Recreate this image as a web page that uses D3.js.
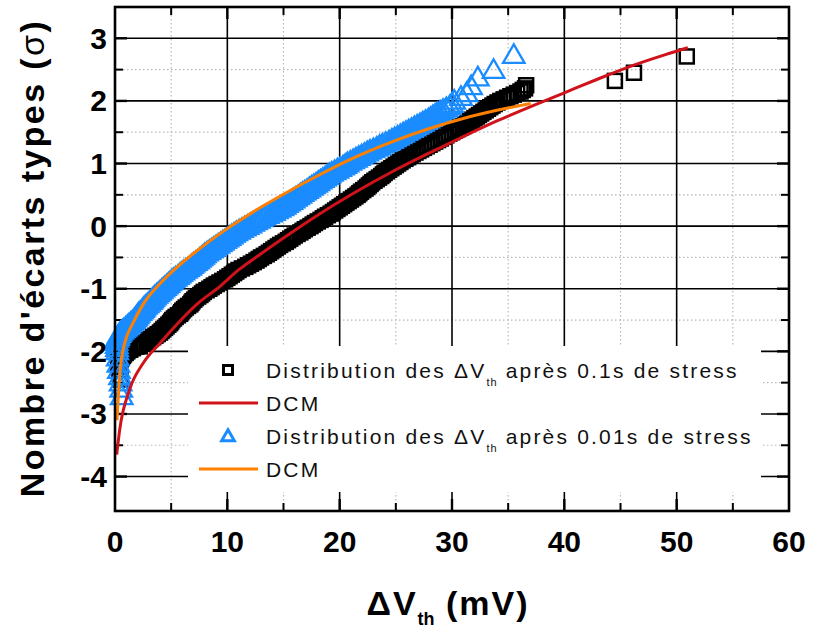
<!DOCTYPE html>
<html><head><meta charset="utf-8">
<script src="https://cdn.jsdelivr.net/npm/d3@7"></script>
<style>
html,body{margin:0;padding:0;background:#fff;}
text{font-family:"Liberation Sans",Arial,sans-serif;}
</style></head>
<body>
<svg id="chart" width="813" height="629"></svg>
<script>
// ---- data ----
const xTicks = [0, 10, 20, 30, 40, 50, 60];
const yTicks = [-4, -3, -2, -1, 0, 1, 2, 3];
const xMinor = [5, 15, 25, 35, 45, 55];
const yMinor = [-3.5, -2.5, -1.5, -0.5, 0.5, 1.5, 2.5];

// Distribution des ΔVth après 0.1s de stress (squares) : [ΔVth (mV), σ]
const stress01 = [
[0.3,-2.25],[0.32,-2.225],[0.35,-2.2],[0.4,-2.175],[0.45,-2.15],[0.52,-2.125],[0.6,-2.1],[0.7,-2.075],[0.8,-2.05],[0.95,-2.025],
[1.1,-2.0],[1.35,-1.975],[1.6,-1.95],[1.9,-1.925],[2.2,-1.9],[2.5,-1.875],[2.8,-1.85],[3.0,-1.825],[3.2,-1.8],[3.4,-1.775],
[3.6,-1.75],[3.8,-1.725],[4.0,-1.7],[4.15,-1.675],[4.3,-1.65],[4.45,-1.625],[4.6,-1.6],[4.75,-1.575],[4.9,-1.55],[5.0,-1.525],
[5.1,-1.5],[5.25,-1.475],[5.4,-1.45],[5.6,-1.425],[5.8,-1.4],[5.9,-1.375],[6.0,-1.35],[6.15,-1.325],[6.3,-1.3],[6.5,-1.275],
[6.7,-1.25],[6.8,-1.225],[6.9,-1.2],[7.05,-1.175],[7.2,-1.15],[7.4,-1.125],[7.6,-1.1],[7.75,-1.075],[7.9,-1.05],[8.15,-1.025],
[8.4,-1.0],[8.6,-0.975],[8.8,-0.95],[9.05,-0.925],[9.3,-0.9],[9.55,-0.875],[9.8,-0.85],[10.0,-0.825],[10.2,-0.8],[10.4,-0.775],
[10.6,-0.75],[10.8,-0.725],[11.0,-0.7],[11.3,-0.675],[11.6,-0.65],[11.85,-0.625],[12.1,-0.6],[12.35,-0.575],[12.6,-0.55],[12.8,-0.525],
[13.0,-0.5],[13.25,-0.475],[13.5,-0.45],[13.7,-0.425],[13.9,-0.4],[14.1,-0.375],[14.3,-0.35],[14.5,-0.325],[14.7,-0.3],[14.95,-0.275],
[15.2,-0.25],[15.4,-0.225],[15.6,-0.2],[15.8,-0.175],[16.0,-0.15],[16.25,-0.125],[16.5,-0.1],[16.7,-0.075],[16.9,-0.05],[17.15,-0.025],
[17.4,0.0],[17.6,0.025],[17.8,0.05],[18.05,0.075],[18.3,0.1],[18.5,0.125],[18.7,0.15],[18.95,0.175],[19.2,0.2],[19.4,0.225],
[19.6,0.25],[19.8,0.275],[20.0,0.3],[20.2,0.325],[20.4,0.35],[20.6,0.375],[20.8,0.4],[21.0,0.425],[21.2,0.45],[21.4,0.475],
[21.6,0.5],[21.75,0.525],[21.9,0.55],[22.1,0.575],[22.3,0.6],[22.45,0.625],[22.6,0.65],[22.75,0.675],[22.9,0.7],[23.1,0.725],
[23.3,0.75],[23.5,0.775],[23.7,0.8],[23.85,0.825],[24.0,0.85],[24.2,0.875],[24.4,0.9],[24.6,0.925],[24.8,0.95],[25.0,0.975],
[25.2,1.0],[25.4,1.025],[25.6,1.05],[25.85,1.075],[26.1,1.1],[26.3,1.125],[26.5,1.15],[26.75,1.175],[27.0,1.2],[27.25,1.225],
[27.5,1.25],[27.75,1.275],[28.0,1.3],[28.25,1.325],[28.5,1.35],[28.75,1.375],[29.0,1.4],[29.25,1.425],[29.5,1.45],[29.75,1.475],
[30.0,1.5],[30.25,1.525],[30.5,1.55],[30.75,1.575],[31.0,1.6],[31.2,1.625],[31.4,1.65],[31.6,1.675],[31.8,1.7],[32.0,1.725],
[32.2,1.75],[32.4,1.775],[32.6,1.8],[32.8,1.825],[33.0,1.85],[33.2,1.875],[33.4,1.9],[33.6,1.925],[33.8,1.95],[34.05,1.975],
[34.3,2.0],[34.6,2.025],[34.9,2.05],[35.2,2.075],[35.5,2.1],[35.8,2.125],[36.1,2.15],[36.3,2.175],[36.5,2.2],[36.6,2.25],
[0.25,-2.0],[1.3,-1.97],[2.2,-1.92],[0.6,-1.85],[0.4,-2.3],[0.5,-2.45],
[44.5,2.32],[46.2,2.45],[50.9,2.71]
];

// Distribution des ΔVth après 0.01s de stress (triangles) : [ΔVth (mV), σ]
const stress001 = [
[0.6,-2.72],[0.55,-2.6],[0.5,-2.5],[0.45,-2.4],[0.35,-2.3],[0.3,-2.2],[0.25,-2.1],[0.2,-2.0],[0.18,-1.95],[0.15,-1.9],
[0.15,-1.85],[0.2,-1.8],[0.25,-1.775],[0.3,-1.75],[0.4,-1.725],[0.5,-1.7],[0.65,-1.675],[0.8,-1.65],[0.95,-1.625],[1.1,-1.6],
[1.25,-1.575],[1.4,-1.55],[1.55,-1.525],[1.7,-1.5],[1.8,-1.475],[1.9,-1.45],[2.0,-1.425],[2.1,-1.4],[2.25,-1.375],[2.4,-1.35],
[2.5,-1.325],[2.6,-1.3],[2.75,-1.275],[2.9,-1.25],[3.05,-1.225],[3.2,-1.2],[3.3,-1.175],[3.4,-1.15],[3.55,-1.125],[3.7,-1.1],
[3.85,-1.075],[4.0,-1.05],[4.15,-1.025],[4.3,-1.0],[4.45,-0.975],[4.6,-0.95],[4.75,-0.925],[4.9,-0.9],[5.05,-0.875],[5.2,-0.85],
[5.4,-0.825],[5.6,-0.8],[5.75,-0.775],[5.9,-0.75],[6.1,-0.725],[6.3,-0.7],[6.5,-0.675],[6.7,-0.65],[6.85,-0.625],[7.0,-0.6],
[7.2,-0.575],[7.4,-0.55],[7.55,-0.525],[7.7,-0.5],[7.85,-0.475],[8.0,-0.45],[8.2,-0.425],[8.4,-0.4],[8.6,-0.375],[8.8,-0.35],
[9.0,-0.325],[9.2,-0.3],[9.4,-0.275],[9.6,-0.25],[9.8,-0.225],[10.0,-0.2],[10.2,-0.175],[10.4,-0.15],[10.6,-0.125],[10.8,-0.1],
[11.05,-0.075],[11.3,-0.05],[11.55,-0.025],[11.8,0.0],[12.05,0.025],[12.3,0.05],[12.55,0.075],[12.8,0.1],[13.05,0.125],[13.3,0.15],
[13.6,0.175],[13.9,0.2],[14.15,0.225],[14.4,0.25],[14.65,0.275],[14.9,0.3],[15.1,0.325],[15.3,0.35],[15.5,0.375],[15.7,0.4],
[15.9,0.425],[16.1,0.45],[16.3,0.475],[16.5,0.5],[16.7,0.525],[16.9,0.55],[17.1,0.575],[17.3,0.6],[17.5,0.625],[17.7,0.65],
[17.9,0.675],[18.1,0.7],[18.3,0.725],[18.5,0.75],[18.7,0.775],[18.9,0.8],[19.1,0.825],[19.3,0.85],[19.55,0.875],[19.8,0.9],
[20.05,0.925],[20.3,0.95],[20.5,0.975],[20.7,1.0],[20.95,1.025],[21.2,1.05],[21.45,1.075],[21.7,1.1],[21.95,1.125],[22.2,1.15],
[22.45,1.175],[22.7,1.2],[23.0,1.225],[23.3,1.25],[23.55,1.275],[23.8,1.3],[24.1,1.325],[24.4,1.35],[24.65,1.375],[24.9,1.4],
[25.15,1.425],[25.4,1.45],[25.65,1.475],[25.9,1.5],[26.15,1.525],[26.4,1.55],[26.65,1.575],[26.9,1.6],[27.15,1.625],[27.4,1.65],
[27.65,1.675],[27.9,1.7],[28.1,1.725],[28.3,1.75],[28.5,1.775],[28.7,1.8],[28.95,1.825],[29.2,1.85],[29.5,1.88],[29.8,1.91],
[30.0,1.95],[30.2,2.0],[30.8,2.06],[31.3,2.12],[31.7,2.23],[32.3,2.37],[33.7,2.49],[35.5,2.73]
];

// DCM fits
const dcmRedX = [0.15,0.42,1.3,2.5,4,5.5,7.4,9.3,11,13,15,18,21,25,28,31,34,37,40,43,46,49,51];
const dcmRedY = [-3.65,-3.25,-2.61,-2.19,-1.87,-1.57,-1.23,-0.97,-0.7,-0.44,-0.19,0.17,0.5,0.9,1.17,1.43,1.68,1.91,2.13,2.35,2.56,2.74,2.85];
const dcmOrangeX = [0.18,0.35,0.57,0.86,1.6,2.5,4,5.5,7.4,10,12.5,15,18,21,25,28,31,34,37];
const dcmOrangeY = [-3.1,-2.55,-2.13,-1.87,-1.55,-1.25,-0.92,-0.66,-0.38,-0.04,0.25,0.51,0.8,1.07,1.37,1.56,1.72,1.85,1.96];

const legendLabels = ["Distribution des ΔV|th| après 0.1s de stress", "DCM", "Distribution des ΔV|th| après 0.01s de stress", "DCM"];

// ---- drawing ----
const svg = d3.select("#chart");
const L = 115, R = 789, T = 7, B = 511;
const x = d3.scaleLinear().domain([0, 60]).range([L, R]);
const y = d3.scaleLinear().domain([-4.55, 3.5]).range([B, T]);

const RED = "#d0121b", ORANGE = "#ff8000", BLUE = "#1a8cff";

// minor dotted grid
const g = svg.append("g");
g.selectAll(".mx").data(xMinor).enter().append("line")
  .attr("x1", d => x(d)).attr("x2", d => x(d)).attr("y1", T).attr("y2", B)
  .attr("stroke", "#b8b8b8").attr("stroke-width", 1.2).attr("stroke-dasharray", "1.5,2.5");
g.selectAll(".my").data(yMinor).enter().append("line")
  .attr("y1", d => y(d)).attr("y2", d => y(d)).attr("x1", L).attr("x2", R)
  .attr("stroke", "#b8b8b8").attr("stroke-width", 1.2).attr("stroke-dasharray", "1.5,2.5");
// major grid
g.selectAll(".gx").data(xTicks.slice(1, -1)).enter().append("line")
  .attr("x1", d => x(d)).attr("x2", d => x(d)).attr("y1", T).attr("y2", B)
  .attr("stroke", "#000").attr("stroke-width", 1.6);
g.selectAll(".gy").data(yTicks).enter().append("line")
  .attr("y1", d => y(d)).attr("y2", d => y(d)).attr("x1", L).attr("x2", R)
  .attr("stroke", "#000").attr("stroke-width", 1.6);

// legend background
svg.append("rect").attr("x", 188).attr("y", 346).attr("width", 761 - 188).attr("height", 492 - 346).attr("fill", "#fff");

// ticks (inward)
const tk = svg.append("g").attr("stroke", "#000");
xMinor.forEach(v => {
  tk.append("line").attr("x1", x(v)).attr("x2", x(v)).attr("y1", B).attr("y2", B - 8).attr("stroke-width", 2);
  tk.append("line").attr("x1", x(v)).attr("x2", x(v)).attr("y1", T).attr("y2", T + 8).attr("stroke-width", 2);
});
yMinor.forEach(v => {
  tk.append("line").attr("y1", y(v)).attr("y2", y(v)).attr("x1", L).attr("x2", L + 8).attr("stroke-width", 2);
  tk.append("line").attr("y1", y(v)).attr("y2", y(v)).attr("x1", R).attr("x2", R - 8).attr("stroke-width", 2);
});
xTicks.slice(1, -1).forEach(v => {
  tk.append("line").attr("x1", x(v)).attr("x2", x(v)).attr("y1", B).attr("y2", B - 12).attr("stroke-width", 2.4);
  tk.append("line").attr("x1", x(v)).attr("x2", x(v)).attr("y1", T).attr("y2", T + 12).attr("stroke-width", 2.4);
});
yTicks.forEach(v => {
  tk.append("line").attr("y1", y(v)).attr("y2", y(v)).attr("x1", L).attr("x2", L + 12).attr("stroke-width", 2.4);
  tk.append("line").attr("y1", y(v)).attr("y2", y(v)).attr("x1", R).attr("x2", R - 12).attr("stroke-width", 2.4);
});

// data: squares
const plot = svg.append("g");
const sq = 14;
plot.selectAll(".sq").data(stress01).enter().append("rect")
  .attr("x", d => x(d[0]) - sq / 2).attr("y", d => y(d[1]) - sq / 2)
  .attr("width", sq).attr("height", sq)
  .attr("fill", "none").attr("stroke", "#000").attr("stroke-width", 2.5);

// triangles
const tri = d3.symbol().type(d3.symbolTriangle).size(200);
plot.selectAll(".tr").data(stress001).enter().append("path")
  .attr("d", tri)
  .attr("transform", d => `translate(${x(d[0])},${y(d[1]) + 1.5})`)
  .attr("fill", "none").attr("stroke", BLUE).attr("stroke-width", 2.3);

// DCM curves
const line = d3.line().x(d => x(d[0])).y(d => y(d[1])).curve(d3.curveMonotoneX);
plot.append("path").datum(dcmRedX.map((v, i) => [v, dcmRedY[i]]))
  .attr("d", line).attr("fill", "none").attr("stroke", RED).attr("stroke-width", 3);
plot.append("path").datum(dcmOrangeX.map((v, i) => [v, dcmOrangeY[i]]))
  .attr("d", line).attr("fill", "none").attr("stroke", ORANGE).attr("stroke-width", 3);

// frame
svg.append("rect").attr("x", L).attr("y", T).attr("width", R - L).attr("height", B - T)
  .attr("fill", "none").attr("stroke", "#000").attr("stroke-width", 2.6);

// axis labels
svg.selectAll(".xl").data(xTicks).enter().append("text")
  .attr("x", d => x(d)).attr("y", 552).attr("text-anchor", "middle")
  .attr("font-size", 30).attr("font-weight", "bold").text(d => d);
svg.selectAll(".yl").data(yTicks).enter().append("text")
  .attr("x", 107).attr("y", d => y(d) + 10.5).attr("text-anchor", "end")
  .attr("font-size", 30).attr("font-weight", "bold").text(d => d);

// x title
const xt = svg.append("text").attr("x", 448).attr("y", 615).attr("text-anchor", "middle")
  .attr("font-size", 34).attr("font-weight", "bold").attr("letter-spacing", 2);
xt.append("tspan").text("ΔV");
xt.append("tspan").attr("font-size", 18).attr("dy", 10).attr("letter-spacing", 0).text("th");
xt.append("tspan").attr("dy", -10).text(" (mV)");

// y title
const yt = svg.append("text").attr("transform", "translate(44,258) rotate(-90)")
  .attr("text-anchor", "middle").attr("font-size", 34).attr("font-weight", "bold")
  .attr("letter-spacing", 2.4);
yt.append("tspan").text("Nombre d'écarts types (");
yt.append("tspan").attr("font-weight", "normal").text("σ");
yt.append("tspan").text(")");

// legend
const rows = [370, 403, 436, 469];
const lg = svg.append("g");
lg.append("rect").attr("x", 228 - 4.5).attr("y", rows[0] - 4.5).attr("width", 9).attr("height", 9)
  .attr("fill", "none").attr("stroke", "#000").attr("stroke-width", 3);
lg.append("line").attr("x1", 199).attr("x2", 258).attr("y1", rows[1]).attr("y2", rows[1]).attr("stroke", RED).attr("stroke-width", 3);
lg.append("path").attr("d", d3.symbol().type(d3.symbolTriangle).size(70))
  .attr("transform", `translate(228,${rows[2] + 1})`).attr("fill", "none").attr("stroke", BLUE).attr("stroke-width", 3);
lg.append("line").attr("x1", 199).attr("x2", 258).attr("y1", rows[3]).attr("y2", rows[3]).attr("stroke", ORANGE).attr("stroke-width", 3);
legendLabels.forEach((lab, i) => {
  const t = lg.append("text").attr("x", 266).attr("y", rows[i] + 7.5).attr("font-size", 21).attr("letter-spacing", 2.2).attr("fill", "#111");
  const parts = lab.split("|");
  t.append("tspan").text(parts[0]);
  if (parts.length > 1) {
    t.append("tspan").attr("font-size", 11).attr("dy", 8).attr("letter-spacing", 1).text(parts[1]);
    t.append("tspan").attr("dy", -8).text(parts[2]);
  }
});
</script>
</body></html>
